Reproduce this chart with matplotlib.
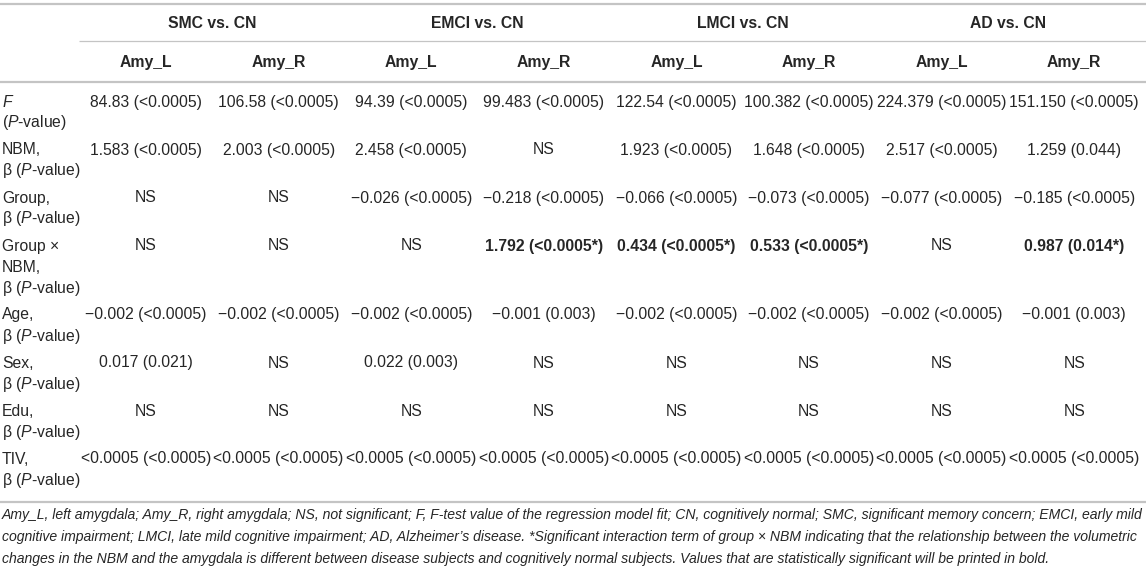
import matplotlib
matplotlib.use("Agg")
import matplotlib.pyplot as plt

plt.rcParams['font.family'] = ['Liberation Sans', 'DejaVu Sans']
plt.rcParams['mathtext.fontset'] = 'custom'
plt.rcParams['mathtext.rm'] = 'Liberation Sans'
plt.rcParams['mathtext.it'] = 'Liberation Sans:italic'
plt.rcParams['mathtext.bf'] = 'Liberation Sans:bold'

# table content
groups = ["SMC vs. CN", "EMCI vs. CN", "LMCI vs. CN", "AD vs. CN"]
sides = ["Amy_L", "Amy_R"]

beta_p = "\u03b2 ($\\mathit{P}$-value)"
row_labels = [
    ["$\\mathit{F}$", "($\\mathit{P}$-value)"],
    ["NBM,", beta_p],
    ["Group,", beta_p],
    ["Group \u00d7", "NBM,", beta_p],
    ["Age,", beta_p],
    ["Sex,", beta_p],
    ["Edu,", beta_p],
    ["TIV,", beta_p],
]

M = "\u2212"
smc_l = ["84.83 (<0.0005)", "1.583 (<0.0005)", "NS", "NS",
         M + "0.002 (<0.0005)", "0.017 (0.021)", "NS", "<0.0005 (<0.0005)"]
smc_r = ["106.58 (<0.0005)", "2.003 (<0.0005)", "NS", "NS",
         M + "0.002 (<0.0005)", "NS", "NS", "<0.0005 (<0.0005)"]
emci_l = ["94.39 (<0.0005)", "2.458 (<0.0005)", M + "0.026 (<0.0005)", "NS",
          M + "0.002 (<0.0005)", "0.022 (0.003)", "NS", "<0.0005 (<0.0005)"]
emci_r = ["99.483 (<0.0005)", "NS", M + "0.218 (<0.0005)", "1.792 (<0.0005*)",
          M + "0.001 (0.003)", "NS", "NS", "<0.0005 (<0.0005)"]
lmci_l = ["122.54 (<0.0005)", "1.923 (<0.0005)", M + "0.066 (<0.0005)", "0.434 (<0.0005*)",
          M + "0.002 (<0.0005)", "NS", "NS", "<0.0005 (<0.0005)"]
lmci_r = ["100.382 (<0.0005)", "1.648 (<0.0005)", M + "0.073 (<0.0005)", "0.533 (<0.0005*)",
          M + "0.002 (<0.0005)", "NS", "NS", "<0.0005 (<0.0005)"]
ad_l = ["224.379 (<0.0005)", "2.517 (<0.0005)", M + "0.077 (<0.0005)", "NS",
        M + "0.002 (<0.0005)", "NS", "NS", "<0.0005 (<0.0005)"]
ad_r = ["151.150 (<0.0005)", "1.259 (0.044)", M + "0.185 (<0.0005)", "0.987 (0.014*)",
        M + "0.001 (0.003)", "NS", "NS", "<0.0005 (<0.0005)"]
columns = [smc_l, smc_r, emci_l, emci_r, lmci_l, lmci_r, ad_l, ad_r]

# (row, column) cells printed in bold
bold_cells = [(3, 3), (3, 4), (3, 5), (3, 7)]

footnote = [
    "Amy_L, left amygdala; Amy_R, right amygdala; NS, not significant; F, F-test value of the regression model fit; "
    "CN, cognitively normal; SMC, significant memory concern; EMCI, early mild",
    "cognitive impairment; LMCI, late mild cognitive impairment; AD, Alzheimer\u2019s disease. *Significant interaction "
    "term of group \u00d7 NBM indicating that the relationship between the volumetric",
    "changes in the NBM and the amygdala is different between disease subjects and cognitively normal subjects. "
    "Values that are statistically significant will be printed in bold.",
]

W, H = 1146, 571
fig = plt.figure(figsize=(W / 100, H / 100), dpi=100)
ax = fig.add_axes([0, 0, 1, 1])
ax.set_xlim(0, W)
ax.set_ylim(H, 0)
ax.axis('off')

txt = '#262626'
rule = '#c4c4c4'
fs = 11.3

# layout (pixels)
x_label = 2
col_x0, col_step = 146, 132.6
col_centers = [col_x0 + i * col_step for i in range(len(columns))]
line_h = 21
row_gap = 27

# rules
ax.hlines(4, 0, W, color=rule, lw=1.6)
ax.hlines(41, 79, W, color=rule, lw=0.9)
ax.hlines(82, 0, W, color=rule, lw=1.6)
ax.hlines(502, 0, W, color=rule, lw=1.6)

# headers
for g, name in enumerate(groups):
    xc = (col_centers[2 * g] + col_centers[2 * g + 1]) / 2
    ax.text(xc, 24, name, ha='center', va='center', fontsize=fs, fontweight='bold', color=txt)
for c, xc in enumerate(col_centers):
    ax.text(xc, 62, sides[c % 2], ha='center', va='center', fontsize=fs, fontweight='bold', color=txt)

# body
y = 102
for r, labels in enumerate(row_labels):
    for k, lab in enumerate(labels):
        ax.text(x_label, y + k * line_h, lab, ha='left', va='center', fontsize=fs, color=txt)
    for c, col in enumerate(columns):
        weight = 'bold' if (r, c) in bold_cells else 'normal'
        ax.text(col_centers[c], y, col[r], ha='center', va='center', fontsize=fs,
                fontweight=weight, color=txt)
    y += (len(labels) - 1) * line_h + row_gap

# footnote
for i, line in enumerate(footnote):
    ax.text(x_label, 515 + i * 22, line, ha='left', va='center', fontsize=10.05,
            style='italic', color=txt)

fig.savefig("out.png", dpi=100, facecolor='white')
